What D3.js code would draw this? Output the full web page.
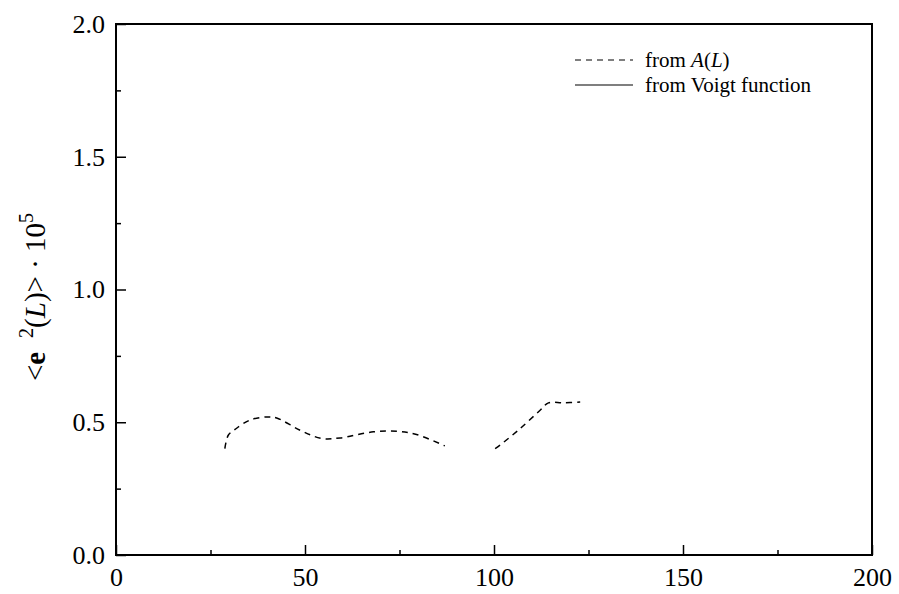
<!DOCTYPE html>
<html>
<head>
<meta charset="utf-8">
<script src="https://cdn.jsdelivr.net/npm/d3@7"></script>
<style>
  body { margin: 0; background: #fff; }
</style>
</head>
<body>
<svg id="chart" width="899" height="594"></svg>
<script>
// curve from A(L), two pieces
const seg1X = [28.8, 29.7, 31.5, 35.4, 39.9, 42.5, 48.7, 54.4, 59.3, 68.1, 74.3, 79.5, 87.0];
const seg1Y = [0.401, 0.451, 0.473, 0.508, 0.520, 0.516, 0.470, 0.439, 0.441, 0.464, 0.466, 0.454, 0.411];
const seg2X = [100.3, 101.6, 106.9, 112.2, 114.4, 118.3, 122.8];
const seg2Y = [0.401, 0.414, 0.476, 0.545, 0.573, 0.573, 0.576];

const xTicks = [0, 50, 100, 150, 200];
const xMinor = [25, 75, 125, 175];
const yTicks = [0.0, 0.5, 1.0, 1.5, 2.0];
const yMinor = [0.25, 0.75, 1.25, 1.75];

const FONT = '"Liberation Serif", "Times New Roman", serif';
const svg = d3.select("#chart");
const mLeft = 116, mRight = 872, mTop = 24, mBottom = 555;

const x = d3.scaleLinear().domain([0, 200]).range([mLeft, mRight]);
const y = d3.scaleLinear().domain([0, 2]).range([mBottom, mTop]);

// frame
svg.append("rect")
  .attr("x", mLeft).attr("y", mTop)
  .attr("width", mRight - mLeft).attr("height", mBottom - mTop)
  .attr("fill", "none").attr("stroke", "#000").attr("stroke-width", 2);

// x axis ticks (inward)
let xg = svg.append("g").attr("transform", `translate(0,${mBottom})`)
  .call(d3.axisBottom(x).tickValues(xTicks).tickSize(-10).tickFormat(d3.format("d")));
xg.select(".domain").remove();
xg.selectAll(".tick line").attr("stroke-width", 1.5);
xg.selectAll("text").style("font-family", FONT).style("font-size", "26px")
  .attr("fill", "#000").attr("y", 22).attr("dy", "0.35em");

let xm = svg.append("g").attr("transform", `translate(0,${mBottom})`)
  .call(d3.axisBottom(x).tickValues(xMinor).tickSize(-5).tickFormat(""));
xm.select(".domain").remove();
xm.selectAll(".tick line").attr("stroke-width", 1.5);

// y axis ticks (inward)
let yg = svg.append("g").attr("transform", `translate(${mLeft},0)`)
  .call(d3.axisLeft(y).tickValues(yTicks).tickSize(-10).tickFormat(d3.format(".1f")));
yg.select(".domain").remove();
yg.selectAll(".tick line").attr("stroke-width", 1.5);
yg.selectAll("text").style("font-family", FONT).style("font-size", "26px")
  .attr("fill", "#000").attr("x", -11);

let ym = svg.append("g").attr("transform", `translate(${mLeft},0)`)
  .call(d3.axisLeft(y).tickValues(yMinor).tickSize(-5).tickFormat(""));
ym.select(".domain").remove();
ym.selectAll(".tick line").attr("stroke-width", 1.5);

// y label
let yl = svg.append("text")
  .attr("transform", "translate(45,297) rotate(-90)")
  .attr("text-anchor", "middle")
  .style("font-family", FONT).style("font-size", "29px");
yl.append("tspan").text("<");
yl.append("tspan").attr("font-weight", "bold").text("e");
yl.append("tspan").attr("dx", 14).attr("dy", -12).style("font-size", "20px").text("2");
yl.append("tspan").attr("dy", 12).text("(");
yl.append("tspan").attr("font-style", "italic").text("L");
yl.append("tspan").text(")> · 10");
yl.append("tspan").attr("dy", -12).style("font-size", "20px").text("5");

// curve
const line = d3.line().curve(d3.curveCatmullRom).x(d => x(d[0])).y(d => y(d[1]));
[[seg1X, seg1Y], [seg2X, seg2Y]].forEach(([xs, ys]) => {
  svg.append("path")
    .datum(xs.map((v, i) => [v, ys[i]]))
    .attr("d", line)
    .attr("fill", "none").attr("stroke", "#000")
    .attr("stroke-width", 1.5).attr("stroke-dasharray", "6,5");
});

// legend
const legend = svg.append("g");
legend.append("line").attr("x1", 575).attr("x2", 633).attr("y1", 60).attr("y2", 60)
  .attr("stroke", "#000").attr("stroke-width", 1.2).attr("stroke-dasharray", "6,5");
legend.append("line").attr("x1", 575).attr("x2", 633).attr("y1", 85).attr("y2", 85)
  .attr("stroke", "#000").attr("stroke-width", 1.2);
let t1 = legend.append("text").attr("x", 645).attr("y", 67)
  .style("font-family", FONT).style("font-size", "21px");
t1.append("tspan").text("from ");
t1.append("tspan").attr("font-style", "italic").text("A");
t1.append("tspan").text("(");
t1.append("tspan").attr("font-style", "italic").text("L");
t1.append("tspan").text(")");
legend.append("text").attr("x", 645).attr("y", 92)
  .style("font-family", FONT).style("font-size", "21px")
  .text("from Voigt function");
</script>
</body>
</html>
